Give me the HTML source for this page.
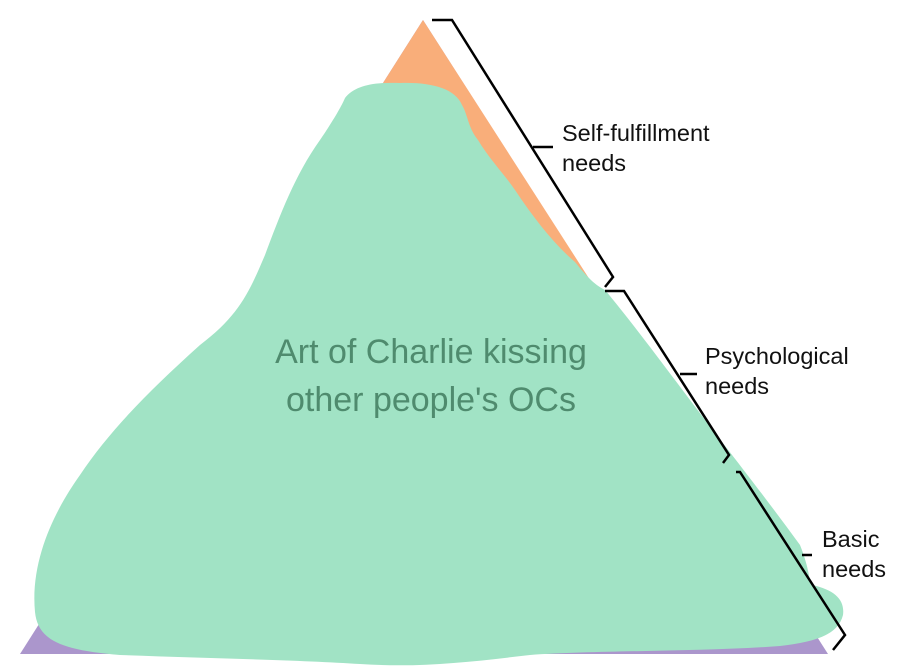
<!DOCTYPE html>
<html><head><style>
html,body{margin:0;padding:0;background:#fff;}
svg{display:block;}
</style></head><body>
<svg width="900" height="670" viewBox="0 0 900 670" xmlns="http://www.w3.org/2000/svg">
<polygon points="423,20 20,654 828,654" fill="#ab96cc"/>
<polygon points="423,20 258,280 590,280" fill="#f9ae7a"/>
<polygon points="258,280 232,320 300,320" fill="#9fb9e8"/>
<path d="M35,612 C30,560 55,510 80,475 C110,430 150,390 200,345 C240,315 250,290 265,255 C280,215 295,175 320,140 C335,118 342,105 345,98 C355,85 375,82 400,83 C430,82 455,88 462,105 C468,115 468,128 478,140 C490,160 505,175 515,190 C535,220 555,245 575,262 C588,278 595,285 605,290 C630,320 660,360 690,400 C720,440 760,490 800,545 C810,570 808,578 812,585 C835,590 845,600 843,615 C838,635 815,642 780,646 C700,652 600,650 530,655 C470,662 420,668 360,664 C300,660 200,658 120,655 C60,650 38,640 35,612 Z" fill="#a1e3c5"/>
<g fill="none" stroke="#000" stroke-width="2.5" stroke-linejoin="miter">
<polyline points="432,20 452,20 613,277 605,287"/>
<line x1="533" y1="147" x2="553" y2="147"/>
<polyline points="605,291 624,291 729,455 723,463"/>
<line x1="680" y1="374" x2="697" y2="374"/>
<polyline points="736,472 740,472 845,635 833,650"/>
<line x1="802" y1="555" x2="812" y2="555"/>
</g>
<g font-family="Liberation Sans, sans-serif" font-size="23.5" fill="#111">
<text x="562" y="141">Self-fulfillment</text>
<text x="562" y="171">needs</text>
<text x="705" y="364">Psychological</text>
<text x="705" y="394">needs</text>
<text x="822" y="547">Basic</text>
<text x="822" y="577">needs</text>
</g>
<g font-family="Liberation Sans, sans-serif" font-size="34" fill="#4f8b6e" text-anchor="middle">
<text x="431" y="363">Art of Charlie kissing</text>
<text x="431" y="411">other people's OCs</text>
</g>
</svg>
</body></html>
